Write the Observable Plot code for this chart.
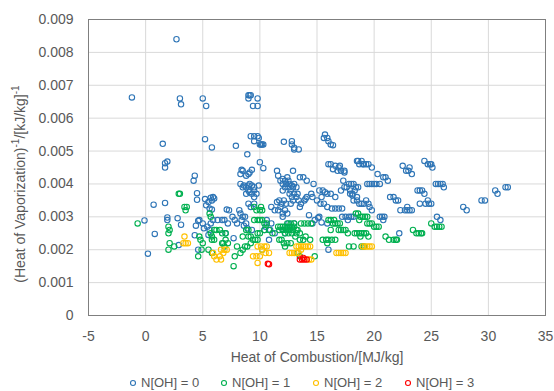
<!DOCTYPE html>
<html>
<head>
<meta charset="utf-8">
<script src="https://cdn.jsdelivr.net/npm/d3@7"></script>
<script src="https://cdn.jsdelivr.net/npm/@observablehq/plot@0.6"></script>
<style>
  html, body { margin: 0; padding: 0; background: #fff; }
  #wrap { width: 554px; height: 391px; position: relative; font-family: "Liberation Sans", Arial, sans-serif; }
  #legend { position: absolute; left: 0; top: 375px; width: 554px; height: 16px; font-size: 13px; color: #595959; }
  .item { position: absolute; top: 0px; white-space: nowrap; display: flex; align-items: center; }
  .item svg { margin-right: 4px; }
</style>
</head>
<body>
<div id="wrap"><div id="chart"></div><div id="legend"></div></div>
<script>
const seriesNames = ["N[OH] = 0", "N[OH] = 1", "N[OH] = 2", "N[OH] = 3"];
const seriesColors = ["#2E75B6", "#00B050", "#FFC000", "#FF0000"];
const xTicks = [-5, 0, 5, 10, 15, 20, 25, 30, 35];
const yTicks = [0, 0.001, 0.002, 0.003, 0.004, 0.005, 0.006, 0.007, 0.008, 0.009];
const xLabel = "Heat of Combustion/[MJ/kg]";

// [heat of combustion MJ/kg, (heat of vaporization)^-1 (kJ/kg)^-1]
const n0Points = [
  [2.7,0.0084],[-1.2,0.00663],[3.0,0.0066],[3.1,0.00642],[5.0,0.0066],[5.3,0.00637],
  [9.0,0.0067],[9.2,0.0067],[9.1,0.0067],[9.0,0.0066],[9.8,0.0066],[9.4,0.00637],[9.8,0.00637],
  [1.5,0.00522],[5.2,0.00536],[5.8,0.00511],[7.9,0.00516],[1.7,0.00463],[1.9,0.00468],[1.7,0.0045],
  [8.9,0.0049],[9.2,0.00545],[9.5,0.00545],[9.8,0.00545],[9.9,0.0054],[9.5,0.0053],[10.0,0.0052],
  [10.1,0.0052],[10.2,0.0052],[10.3,0.0052],[10.0,0.00466],[10.3,0.00448],[11.5,0.0044],[12.1,0.00528],
  [12.8,0.0053],[12.8,0.0052],[13.0,0.0051],[13.0,0.00505],[13.4,0.00505],
  [15.6,0.0054],[15.7,0.0055],[15.9,0.0054],[16.0,0.0053],[16.2,0.0052],[16.4,0.00518],
  [4.3,0.00425],[4.2,0.0041],[4.5,0.00372],[4.5,0.00352],[0.7,0.00337],[1.7,0.00342],
  [2.8,0.00296],[1.9,0.00298],[1.9,0.0029],[-0.1,0.00289],[3.1,0.00276],[0.8,0.00248],[0.2,0.00188],
  [2.9,0.00214],[4.3,0.00244],[4.4,0.00273],
  [5.2,0.00354],[5.5,0.00345],[5.7,0.00358],[5.9,0.0036],[6.0,0.00356],[5.8,0.0035],[5.6,0.00325],[5.8,0.00322],[5.3,0.00335],
  [5.0,0.0028],[5.1,0.00265],[5.4,0.0027],[5.7,0.0028],[5.6,0.0026],[5.5,0.00245],[5.9,0.0029],[6.3,0.0029],
  [4.6,0.00288],[4.7,0.0029],[4.6,0.002],[6.7,0.0029],[6.9,0.0029],[7.0,0.0025],[7.2,0.0028],
  [7.1,0.00322],[7.3,0.0032],[7.6,0.003],[7.8,0.0029],[8.0,0.0028],
  [8.2,0.0032],[8.3,0.0031],[8.5,0.003],[8.4,0.0029],[8.7,0.003],[8.8,0.0028],[8.6,0.00273],
  [8.3,0.0043],[8.4,0.00443],[8.5,0.0044],[8.8,0.00425],[9.0,0.0043],[9.1,0.00435],[9.3,0.00443],
  [8.3,0.004],[8.5,0.0039],[8.6,0.00395],[8.8,0.0039],[9.0,0.00395],[9.1,0.004],[9.3,0.00395],[9.5,0.0039],[9.9,0.00395],
  [8.8,0.0037],[9.0,0.0038],[9.1,0.00375],[9.3,0.0037],[9.5,0.0036],[9.5,0.0038],
  [9.0,0.0034],[9.5,0.0034],[9.2,0.0033],[9.7,0.0037],[8.9,0.00265],[9.3,0.0026],[7.7,0.00235],
  [11.0,0.0033],[11.0,0.0028],[10.5,0.0027],
  [11.6,0.00425],[11.8,0.0041],[12.0,0.00415],[12.2,0.0041],[12.4,0.0042],[12.5,0.0041],[12.0,0.004],[12.3,0.004],
  [12.6,0.004],[12.8,0.00395],[13.0,0.004],[13.2,0.0039],[12.2,0.0039],[12.5,0.0039],[12.0,0.0038],[12.7,0.0038],[12.9,0.0039],
  [13.5,0.0042],[13.8,0.0042],[14.1,0.0041],[14.7,0.004],[12.9,0.0044],
  [11.3,0.0032],[11.6,0.0032],[11.8,0.0033],[12.0,0.0031],[12.2,0.0032],[12.4,0.0031],[11.9,0.0034],[12.1,0.0035],
  [12.3,0.0034],[12.0,0.003],[11.5,0.00345],[11.7,0.0035],
  [12.6,0.0037],[12.8,0.0036],[13.0,0.0037],[13.2,0.0036],[13.4,0.0035],[13.6,0.0034],[12.9,0.0035],[12.7,0.0034],
  [13.3,0.0037],[14.1,0.0036],[13.9,0.0035],[13.5,0.0033],
  [14.3,0.00305],[14.8,0.0029],[15.2,0.003],[14.6,0.0028],
  [10.6,0.0029],[10.4,0.0026],[10.8,0.0023],[11.3,0.0025],[10.9,0.0026],
  [15.2,0.0038],[15.5,0.0038],[15.7,0.00375],[15.9,0.0037],[16.2,0.0037],[16.6,0.0036],[15.4,0.0036],[15.3,0.0034],
  [15.6,0.0034],[15.9,0.0033],[16.3,0.00325],[16.6,0.00325],[16.9,0.00325],[17.2,0.00325],[15.0,0.0035],[14.5,0.0037],
  [15.1,0.00297],[15.4,0.00283],[15.9,0.0028],
  [16.0,0.0046],[16.2,0.0046],[16.6,0.00455],[16.9,0.0045],[16.4,0.00445],[16.8,0.0044],[17.1,0.0044],[17.4,0.0044],
  [17.0,0.00455],[17.4,0.00435],[17.3,0.0041],[17.1,0.0038],[17.4,0.0039],
  [17.6,0.0039],[17.8,0.004],[18.0,0.004],[18.2,0.004],[18.4,0.0039],[18.6,0.0039],[17.9,0.0038],[18.3,0.0038],
  [18.1,0.0037],[18.5,0.0036],[18.2,0.0035],[17.9,0.0037],[18.1,0.00365],
  [18.5,0.0035],[18.7,0.0034],[18.9,0.0034],[19.1,0.0034],[19.3,0.0035],[19.5,0.0034],
  [18.5,0.0047],[18.6,0.0047],[18.9,0.0047],[19.1,0.0046],[19.3,0.0046],[19.5,0.0046],[18.7,0.0046],[19.0,0.0046],[19.8,0.0045],
  [19.4,0.004],[19.6,0.004],[19.8,0.004],[20.0,0.004],[20.2,0.004],[20.5,0.004],
  [20.3,0.0043],[20.8,0.0042],[21.0,0.0042],[21.2,0.0041],[19.6,0.0033],[19.8,0.0032],
  [17.2,0.003],[17.5,0.003],[17.8,0.003],[18.0,0.003],[18.2,0.003],[17.7,0.0029],
  [20.5,0.003],[20.7,0.003],[20.9,0.003],[20.8,0.0029],
  [21.4,0.0036],[21.7,0.0036],[21.9,0.0035],[22.1,0.0035],
  [22.3,0.0032],[22.7,0.0032],[22.9,0.0032],[23.1,0.0032],[23.3,0.0032],[22.9,0.0033],
  [22.5,0.00455],[22.8,0.0044],[23.0,0.0044],[23.3,0.0043],[23.1,0.0045],
  [23.8,0.0038],[24.0,0.0038],[24.2,0.0038],[24.4,0.0037],
  [24.0,0.0034],[24.5,0.0034],[24.8,0.0034],[25.0,0.0034],[24.7,0.0035],
  [24.4,0.0047],[24.7,0.0046],[24.9,0.0046],[25.1,0.0045],[25.0,0.0046],
  [25.4,0.004],[25.6,0.004],[25.8,0.004],[26.0,0.004],[26.1,0.0039],
  [25.5,0.003],[25.8,0.0029],[22.2,0.0025],[27.8,0.0033],[28.1,0.0032],[29.4,0.0035],[29.7,0.0035],
  [30.6,0.0038],[30.8,0.0037],[31.5,0.0039],[31.7,0.0039],[16.0,0.002],
  [12.0,0.0026],[12.2,0.0025],[12.5,0.0028],[13.0,0.0028],[14.0,0.00355],[14.6,0.0036]
];
const n1Points = [
  [-0.7,0.0028],[2.0,0.0027],[2.1,0.0026],[2.0,0.0025],[2.1,0.0022],[2.0,0.002],[2.5,0.0021],
  [2.9,0.0037],[3.0,0.0037],[3.4,0.0033],[3.5,0.0032],[3.6,0.0033],[4.6,0.0018],
  [4.7,0.0024],[4.8,0.0023],[5.0,0.0022],[4.9,0.002],[5.6,0.0031],[5.7,0.003],
  [5.7,0.0025],[5.8,0.0024],[5.8,0.0023],[6.0,0.0023],[6.0,0.0026],[6.2,0.0026],[6.5,0.0026],[6.7,0.0025],[7.0,0.0025],
  [5.5,0.002],[5.8,0.0019],[6.7,0.0022],[6.8,0.0022],[6.9,0.0021],[7.7,0.0015],[7.8,0.0018],[8.3,0.0019],
  [8.0,0.0021],[8.5,0.002],[8.7,0.0021],[8.9,0.0021],[8.5,0.0024],[8.8,0.0026],[9.0,0.0026],
  [9.0,0.0024],[9.2,0.0024],[9.4,0.0023],[9.6,0.0023],[9.2,0.0022],
  [9.5,0.0033],[9.7,0.0032],[10.0,0.0032],[10.1,0.0033],[10.2,0.0032],
  [9.5,0.0029],[9.8,0.0029],[10.0,0.0029],[10.2,0.0029],[10.4,0.0028],[10.6,0.0028],
  [9.8,0.0025],[10.0,0.0025],[10.4,0.0026],[9.8,0.0023],[10.2,0.002],
  [11.6,0.0027],[11.8,0.0027],[12.0,0.0027],[12.2,0.0027],[12.4,0.0027],[12.6,0.0027],[12.8,0.0027],[13.0,0.0027],
  [13.2,0.0026],[11.7,0.0026],[12.0,0.0026],[12.3,0.0026],[12.6,0.0026],[12.9,0.0026],[13.2,0.0025],[12.2,0.0025],
  [12.5,0.0025],[12.8,0.0025],[13.1,0.0024],[12.4,0.0028],[12.7,0.0028],[13.0,0.0028],[13.3,0.0026],[13.5,0.0025],
  [13.6,0.0028],[13.9,0.0028],[14.2,0.0028],[14.5,0.0028],[14.0,0.0024],[14.4,0.0023],[13.5,0.0023],[13.8,0.0023],
  [11.7,0.0023],[11.9,0.0023],[12.1,0.0022],[12.4,0.0022],[12.7,0.0022],[12.2,0.0021],
  [13.3,0.0019],[14.8,0.0018],[13.5,0.0018],
  [15.5,0.0023],[15.8,0.0023],[16.0,0.0023],[16.3,0.0023],[16.6,0.0023],[15.9,0.0022],
  [16.0,0.0029],[16.2,0.0029],[16.4,0.0028],[16.6,0.0028],[16.8,0.0028],[17.0,0.0028],[16.5,0.0029],
  [16.2,0.0026],[16.9,0.0026],[17.1,0.0026],[17.3,0.0026],[17.5,0.0026],[17.7,0.0025],
  [18.4,0.0031],[18.6,0.0031],[18.8,0.003],[19.0,0.003],[19.2,0.003],[19.4,0.003],[18.7,0.0029],
  [18.3,0.0025],[18.5,0.0025],[18.7,0.0025],[18.9,0.0025],[19.1,0.0025],[19.3,0.0025],[19.5,0.0024],[18.8,0.0024],
  [19.4,0.0028],[19.6,0.0028],[19.8,0.0028],[20.0,0.0027],[20.2,0.0027],[20.4,0.0027],
  [17.8,0.0021],[18.2,0.0021],[18.9,0.0021],[19.1,0.0021],
  [21.0,0.0024],[21.3,0.0023],[21.7,0.0023],[21.9,0.0023],[22.0,0.0023],
  [23.4,0.0026],[23.7,0.0025],[23.9,0.0025],[24.1,0.0025],[24.2,0.0025],
  [25.0,0.0028],[25.3,0.0027],[25.5,0.0027],[25.7,0.0027],[25.9,0.0027],
  [7.0,0.0023],[7.2,0.0022],[11.1,0.0025],[10.8,0.0026]
];
const n2Points = [
  [3.4,0.0024],[3.5,0.0022],[3.7,0.0022],[3.3,0.0022],[6.0,0.0018],[5.9,0.0019],[6.2,0.0017],
  [6.6,0.002],[6.9,0.002],[7.1,0.002],[6.8,0.0019],[6.5,0.0018],[6.6,0.0017],
  [9.4,0.0018],[9.7,0.0018],[10.0,0.0018],[9.8,0.0016],
  [9.8,0.0021],[10.1,0.0021],[10.4,0.0021],[10.6,0.0021],[10.2,0.002],[10.5,0.0019],[10.8,0.0019],
  [13.2,0.0021],[13.4,0.0021],[13.6,0.0021],[13.8,0.0021],[14.0,0.0021],[14.2,0.0021],[14.4,0.0021],
  [12.6,0.0019],[12.8,0.0019],[13.0,0.0019],[13.2,0.0019],[13.4,0.0019],[13.6,0.002],
  [14.3,0.0017],[14.5,0.0017],
  [16.7,0.0019],[16.9,0.0019],[17.1,0.0019],[17.3,0.0019],[17.5,0.0019],
  [19.0,0.0021],[19.2,0.0021],[19.4,0.0021],[19.6,0.0021],[19.8,0.0021]
];
const n3Points = [
  [10.7,0.00157],[10.8,0.00156],[13.5,0.0017],[13.7,0.0017],[13.9,0.0017],[14.1,0.0017],[13.8,0.00175]
];

const allSeries = [n0Points, n1Points, n2Points, n3Points];
const data = allSeries.flatMap((pts, i) => pts.map(([x, y]) => ({x, y, s: seriesNames[i]})));

const chart = Plot.plot({
  width: 554,
  height: 375,
  marginLeft: 88,
  marginRight: 9,
  marginTop: 19,
  marginBottom: 60,
  style: {fontFamily: "'Liberation Sans', Arial, sans-serif", fontSize: "14px", color: "#595959", background: "#fff"},
  x: {domain: [-5, 35]},
  y: {domain: [0, 0.009]},
  color: {domain: seriesNames, range: seriesColors},
  marks: [
    Plot.gridX(xTicks, {stroke: "#d9d9d9", strokeOpacity: 1}),
    Plot.gridY(yTicks, {stroke: "#d9d9d9", strokeOpacity: 1}),
    Plot.frame({stroke: "#7f7f7f"}),
    Plot.axisX(xTicks, {tickSize: 0, tickPadding: 16, fontSize: 14, tickFormat: d => String(d), label: xLabel, labelAnchor: "center", labelArrow: "none", labelOffset: 46, fill: "#595959"}),
    Plot.axisY(yTicks, {tickSize: 0, tickPadding: 15, fontSize: 14, label: null, tickFormat: d => d === 0 ? "0" : d.toFixed(3), fill: "#595959"}),
    Plot.dot(data, {x: "x", y: "y", stroke: "s", r: 2.7, strokeWidth: 1.1, fill: "none"})
  ]
});
document.getElementById("chart").appendChild(chart);

// y-axis label with superscripts
const svg = d3.select(chart);
const yl = svg.append("text")
  .attr("transform", "translate(25,184) rotate(-90)")
  .attr("text-anchor", "middle")
  .attr("fill", "#595959")
  .attr("font-size", 14);
yl.append("tspan").text("(Heat of Vaporization)");
yl.append("tspan").attr("font-size", 10).attr("dy", -6).text("-1");
yl.append("tspan").attr("dy", 6).text("/[kJ/kg]");
yl.append("tspan").attr("font-size", 10).attr("dy", -6).text("-1");

// legend
const legendLeft = [129, 220, 312, 404];
const legend = d3.select("#legend");
seriesNames.forEach((name, i) => {
  const item = legend.append("div").attr("class", "item").style("left", legendLeft[i] + "px");
  const s = item.append("svg").attr("width", 8).attr("height", 8);
  s.append("circle").attr("cx", 4).attr("cy", 4).attr("r", 2.5).attr("fill", "none").attr("stroke", seriesColors[i]).attr("stroke-width", 1.1);
  item.append("span").text(name);
});
</script>
</body>
</html>
